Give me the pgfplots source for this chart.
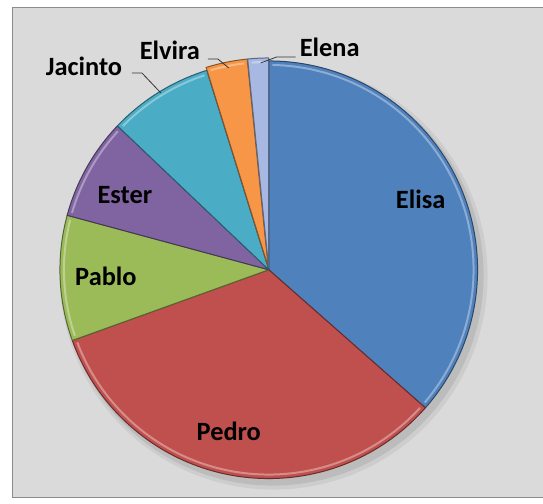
\documentclass[border=0pt]{standalone}
\usepackage{pgfplots}
\pgfplotsset{compat=1.18}
\usepackage{pgfplotstable}
\usepackage{fontspec}
\setmainfont{Carlito}

\definecolor{cElisa}{RGB}{79,129,189}
\definecolor{cPedro}{RGB}{192,80,77}
\definecolor{cPablo}{RGB}{155,187,89}
\definecolor{cEster}{RGB}{128,100,162}
\definecolor{cJacinto}{RGB}{75,172,198}
\definecolor{cElvira}{RGB}{247,150,70}
\definecolor{cElena}{RGB}{167,185,227}
\definecolor{bgfill}{RGB}{218,218,218}
\definecolor{bgline}{RGB}{140,140,140}

% share (%), explode (px), label centre (pixel coords, y down)
\pgfplotstableread{
name    value explode lx  ly
Elisa   36.5  0       421 200
Pedro   33.0  0       229 432
Pablo   9.7   0       106 277
Ester   7.9   0       125 195
Jacinto 8.1   0       84  66
Elvira  3.2   3       170 50
Elena   1.6   3       330 47
}\piedata

\newcommand\labelfont{\bfseries\fontsize{26.5}{30}\selectfont}

\begin{document}
\begin{tikzpicture}
\begin{axis}[
    width=543bp, height=499bp, scale only axis,
    xmin=0, xmax=543, ymin=0, ymax=499,
    y dir=reverse,
    hide axis, clip=false,
]
% background panel
\path (axis cs:0,0) rectangle (axis cs:543,499);
\fill[bgfill] (axis cs:12,7) rectangle (axis cs:543,497);
\draw[bgline, line width=1pt] (axis cs:543,7.5) -- (axis cs:12.5,7.5) -- (axis cs:12.5,497.5) -- (axis cs:543,497.5);

% soft shadow
\fill[black, opacity=0.06] (axis cs:274,276) circle[radius=214bp];
\fill[black, opacity=0.08] (axis cs:273,275) circle[radius=211bp];

% wedges, clockwise from 12 o'clock
\pgfplotstablegetrowsof{\piedata}
\pgfmathtruncatemacro\nrows{\pgfplotsretval-1}
\def\cum{0}
\pgfplotsforeachungrouped \i in {0,...,\nrows}{
    \pgfplotstablegetelem{\i}{value}\of\piedata \let\val\pgfplotsretval
    \pgfplotstablegetelem{\i}{explode}\of\piedata \let\ex\pgfplotsretval
    \pgfplotstablegetelem{\i}{name}\of\piedata \let\nm\pgfplotsretval
    \pgfmathsetmacro\aS{90-3.6*\cum}
    \pgfmathsetmacro\aE{90-3.6*(\cum+\val)}
    \pgfmathsetmacro\aM{(\aS+\aE)/2}
    \pgfmathsetmacro\cx{269+\ex*cos(\aM)}
    \pgfmathsetmacro\cy{270-\ex*sin(\aM)}
    \edef\cmd{\noexpand\filldraw[fill=c\nm, draw=c\nm!55!black, line width=1pt, line join=round]
        (axis cs:\cx,\cy) -- ++(\aS:209bp) arc[start angle=\aS, end angle=\aE, radius=209bp] -- cycle;
        \noexpand\draw[white, opacity=0.35, line width=2pt]
        (axis cs:\cx,\cy) ++(\aS-1:205bp) arc[start angle=\aS-1, end angle=\aE+1, radius=205bp];}
    \cmd
    \pgfmathsetmacro\cum{\cum+\val}
}

% leader lines
\draw[black!80, line width=0.8pt] (axis cs:132,73) -- (axis cs:142,73) -- (axis cs:161,93);
\draw[black!80, line width=0.8pt] (axis cs:208,59) -- (axis cs:218,59) -- (axis cs:229,68);
\draw[black!80, line width=0.8pt] (axis cs:296,57) -- (axis cs:277,57) -- (axis cs:261,63);

% labels
\pgfplotsforeachungrouped \i in {0,...,\nrows}{
    \pgfplotstablegetelem{\i}{name}\of\piedata \let\nm\pgfplotsretval
    \pgfplotstablegetelem{\i}{lx}\of\piedata \let\lx\pgfplotsretval
    \pgfplotstablegetelem{\i}{ly}\of\piedata \let\ly\pgfplotsretval
    \edef\cmd{\noexpand\node[font=\noexpand\labelfont, text=black, inner sep=0pt]
        at (axis cs:\lx,\ly) {\nm};}
    \cmd
}
\end{axis}
\end{tikzpicture}
\end{document}
